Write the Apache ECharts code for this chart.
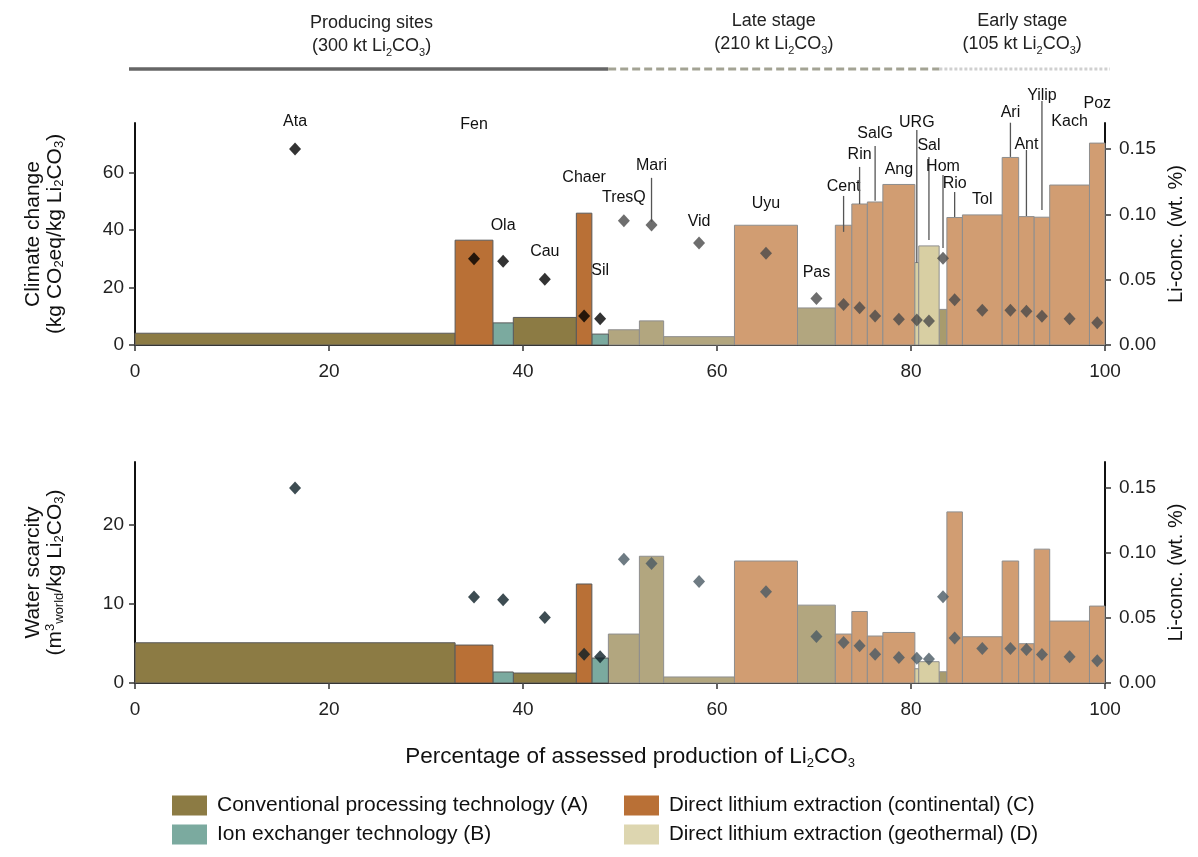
<!DOCTYPE html>
<html lang="en">
<head>
<meta charset="UTF-8">
<title>Li2CO3 production - climate change and water scarcity</title>
<script src="https://cdn.jsdelivr.net/npm/echarts@6.0.0/dist/echarts.min.js"></script>
<style>
    html, body { margin: 0; padding: 0; background: #fff; }
    #main { width: 1198px; height: 857px; }
</style>
</head>
<body>
<div id="main"></div>
<script>
// site order along the production axis
var sites = ['Ata', 'Fen', 'Ola', 'Cau', 'Chaer', 'Sil', 'TresQ', 'Mari', 'Vid', 'Uyu', 'Pas', 'Cent', 'Rin',
    'SalG', 'Ang', 'URG', 'Sal', 'Hom', 'Rio', 'Tol', 'Ari', 'Ant', 'Yilip', 'Kach', 'Poz'];
// cumulative share of assessed production (%), bar edges
var edges = [0, 33.0, 36.9, 39.0, 45.5, 47.1, 48.8, 52.0, 54.5, 61.8, 68.3, 72.2, 73.9, 75.5, 77.1, 80.4,
    80.8, 82.9, 83.7, 85.3, 89.4, 91.1, 92.7, 94.3, 98.4, 100];
var tech = ['A', 'C', 'B', 'A', 'C', 'B', 'A', 'A', 'A', 'C', 'A', 'C', 'C', 'C', 'C', 'D', 'D', 'A', 'C', 'C',
    'C', 'C', 'C', 'C', 'C'];
// P = producing, L = late stage, E = early stage
var stage = ['P', 'P', 'P', 'P', 'P', 'P', 'L', 'L', 'L', 'L', 'L', 'L', 'L', 'L', 'L', 'L', 'L', 'E', 'E', 'E',
    'E', 'E', 'E', 'E', 'E'];
var climate = [4.1, 36.5, 7.7, 9.6, 45.9, 3.8, 5.3, 8.4, 2.9, 41.7, 12.9, 41.7, 49.1, 49.8, 55.9, 28.7, 34.5,
    12.4, 44.4, 45.3, 65.3, 44.7, 44.5, 55.7, 70.3];
var water = [5.08, 4.79, 1.39, 1.26, 12.5, 3.15, 6.18, 16.0, 0.76, 15.4, 9.83, 6.18, 9.03, 5.93, 6.38, 1.8,
    2.69, 1.42, 21.6, 5.84, 15.4, 4.96, 16.9, 7.82, 9.71];
var liConc = [0.150, 0.0661, 0.0641, 0.0503, 0.0222, 0.0201, 0.0952, 0.0919, 0.0781, 0.0702, 0.0357, 0.0311,
    0.0286, 0.0222, 0.0197, 0.0191, 0.0184, 0.0664, 0.0347, 0.0266, 0.0266, 0.0258, 0.0220, 0.0201, 0.0171];

// site name labels (in climate change units) and leader lines
var labelY = [77.7, 76.7, 41.5, 32.4, 58.2, 25.8, 51.2, 62.4, 42.9, 49.1, 25.1, 55.1, 66.2, 73.5, 61.0, 77.4,
    69.3, 62.0, 56.1, 50.5, 80.8, 69.7, 86.8, 77.7, 84.0];
var lineTop = [null, null, null, null, null, null, null, 58.2, null, null, null, 51.9, 62.0, 69.3, null, 74.9,
    65.5, 59.2, 53.3, null, 77.4, 67.9, 85.0, null, null];
var lineEnd = [null, null, null, null, null, null, null, 42.9, null, null, null, 39.4, 49.1, 50.2, null, 28.6,
    36.6, 33.8, 44.6, null, 65.5, 44.9, 47.0, null, null];

var stageNames = ['Producing sites', 'Late stage', 'Early stage'];
var stageKt = [300, 210, 105];

var techNames = {
    A: 'Conventional processing technology (A)',
    B: 'Ion exchanger technology (B)',
    C: 'Direct lithium extraction (continental) (C)',
    D: 'Direct lithium extraction (geothermal) (D)'
};
var colors = {
    A: { P: '#8c7b44', L: '#b2a67f', E: '#a89b6d' },
    B: { P: '#7baa9f', L: '#a7c7bf', E: '#a7c7bf' },
    C: { P: '#b97036', L: '#d19d72', E: '#d19d72' },
    D: { P: '#ddd6b0', L: '#d8cfa3', E: '#d8cfa3' }
};

var FONT = 'Liberation Sans, Arial, Helvetica, sans-serif';
var subRich = {
    s: { fontSize: 13, verticalAlign: 'bottom', lineHeight: 14, fontFamily: FONT, color: '#111' },
    u: { fontSize: 13, verticalAlign: 'top', lineHeight: 14, fontFamily: FONT, color: '#111' }
};

function barItem(params, api) {
    var i = api.value(3);
    var p0 = api.coord([api.value(0), api.value(2)]);
    var p1 = api.coord([api.value(1), 0]);
    var st = stage[i];
    return {
        type: 'rect',
        shape: { x: p0[0], y: p0[1], width: p1[0] - p0[0], height: p1[1] - p0[1] },
        style: {
            fill: colors[tech[i]][st],
            stroke: st === 'P' ? '#5a5a5a' : '#8e8e8e',
            lineWidth: 1
        }
    };
}

function labelItem(params, api) {
    var i = params.dataIndex;
    var xc = (edges[i] + edges[i + 1]) / 2;
    var pt = api.coord([xc, labelY[i]]);
    var children = [{
        type: 'text',
        style: { text: sites[i], x: pt[0], y: pt[1], align: 'center', verticalAlign: 'middle',
            font: '16px ' + FONT, fill: '#111' }
    }];
    if (lineTop[i] != null) {
        var a = api.coord([xc, lineTop[i]]);
        var b = api.coord([xc, lineEnd[i]]);
        children.push({
            type: 'line',
            shape: { x1: a[0], y1: a[1], x2: b[0], y2: b[1] },
            style: { stroke: '#555', lineWidth: 1.3 }
        });
    }
    return { type: 'group', children: children };
}

var series = [];
[0, 1].forEach(function (g) {
    var vals = g === 0 ? climate : water;
    ['A', 'B', 'C', 'D'].forEach(function (t) {
        var data = [];
        sites.forEach(function (s, i) {
            if (tech[i] === t) data.push([edges[i], edges[i + 1], vals[i], i]);
        });
        series.push({
            name: techNames[t],
            type: 'custom',
            xAxisIndex: g,
            yAxisIndex: g * 2,
            renderItem: barItem,
            encode: { x: [0, 1], y: 2 },
            itemStyle: { color: colors[t].P },
            data: data,
            z: 2
        });
    });
    var prod = [], other = [];
    sites.forEach(function (s, i) {
        var pt = [(edges[i] + edges[i + 1]) / 2, liConc[i]];
        (stage[i] === 'P' ? prod : other).push(pt);
    });
    series.push({
        type: 'scatter', xAxisIndex: g, yAxisIndex: g * 2 + 1, symbol: 'diamond', symbolSize: [12, 13],
        itemStyle: { color: g === 0 ? '#000' : '#0c1f27' }, data: prod, z: 5, silent: true
    });
    series.push({
        type: 'scatter', xAxisIndex: g, yAxisIndex: g * 2 + 1, symbol: 'diamond', symbolSize: [12, 13],
        itemStyle: { color: g === 0 ? '#4a4a4a' : '#4a5a64' }, data: other, z: 5, silent: true
    });
});
series.push({
    type: 'custom',
    xAxisIndex: 0,
    yAxisIndex: 0,
    renderItem: labelItem,
    data: sites.map(function (s, i) { return [(edges[i] + edges[i + 1]) / 2, labelY[i]]; }),
    silent: true,
    clip: false,
    z: 6
});

function xAxisOf(g) {
    var ax = {
        gridIndex: g, type: 'value', min: 0, max: 100, interval: 20,
        axisLine: { onZero: false, lineStyle: { color: '#111', width: 2 } },
        axisTick: { length: 6, lineStyle: { color: '#333', width: 1.5 } },
        axisLabel: { fontSize: 19, color: '#222', margin: 17, fontFamily: FONT },
        splitLine: { show: false }
    };
    if (g === 1) {
        ax.name = 'Percentage of assessed production of Li{s|2}CO{s|3}';
        ax.nameLocation = 'middle';
        ax.nameGap = 61;
        ax.nameTextStyle = { fontSize: 22.5, color: '#111', fontFamily: FONT, lineHeight: 26,
            padding: [0, 0, 0, 20], rich: subRich };
    }
    return ax;
}
function leftAxis(g, max, ticks, name) {
    return {
        gridIndex: g, type: 'value', min: 0, max: max, position: 'left',
        axisLine: { show: true, lineStyle: { color: '#111', width: 2 } },
        axisTick: { show: true, length: 6, customValues: ticks, lineStyle: { color: '#333', width: 1.5 } },
        axisLabel: { fontSize: 19, color: '#222', margin: 11, customValues: ticks, fontFamily: FONT },
        splitLine: { show: false },
        name: name, nameLocation: 'middle', nameGap: 69,
        nameTextStyle: { fontSize: 21, color: '#111', fontFamily: FONT, lineHeight: 22, rich: subRich }
    };
}
function rightAxis(g) {
    var ticks = [0, 0.05, 0.10, 0.15];
    return {
        gridIndex: g, type: 'value', min: 0, max: 0.17, position: 'right',
        axisLine: { show: true, lineStyle: { color: '#111', width: 2 } },
        axisTick: { show: true, length: 6, customValues: ticks, lineStyle: { color: '#333', width: 1.5 } },
        axisLabel: { fontSize: 19, color: '#222', margin: 14, customValues: ticks, fontFamily: FONT,
            formatter: function (v) { return v.toFixed(2); } },
        splitLine: { show: false },
        name: 'Li-conc. (wt. %)', nameLocation: 'middle', nameGap: 57,
        nameTextStyle: { fontSize: 20, color: '#111', fontFamily: FONT }
    };
}

var chart = echarts.init(document.getElementById('main'));
chart.setOption({
    animation: false,
    textStyle: { fontFamily: FONT },
    grid: [
        { left: 135, right: 93, top: 123, height: 222 },
        { left: 135, right: 93, top: 462, height: 221 }
    ],
    xAxis: [xAxisOf(0), xAxisOf(1)],
    yAxis: [
        leftAxis(0, 77.3, [0, 20, 40, 60], 'Climate change\n(kg CO{s|2}eq/kg Li{s|2}CO{s|3})'),
        rightAxis(0),
        leftAxis(1, 27.9, [0, 10, 20], 'Water scarcity\n(m{u|3}{s|world}/kg Li{s|2}CO{s|3})'),
        rightAxis(1)
    ],
    legend: [
        { left: 172, top: 795, padding: 0, orient: 'vertical', icon: 'rect', itemWidth: 35, itemHeight: 20,
            itemGap: 8, textStyle: { fontSize: 21, color: '#111', padding: [0, 0, 0, 5] },
            data: [techNames.A, techNames.B] },
        { left: 624, top: 795, padding: 0, orient: 'vertical', icon: 'rect', itemWidth: 35, itemHeight: 20,
            itemGap: 8, textStyle: { fontSize: 20.5, color: '#111', padding: [0, 0, 0, 5] },
            data: [techNames.C, techNames.D] }
    ],
    series: series
});

// stage header above the top panel, placed through the x axis scale
var total = stageKt.reduce(function (a, b) { return a + b; }, 0);
var bounds = [0];
stageKt.forEach(function (k, i) { bounds.push(bounds[i] + k / total * 100); });
var px = bounds.map(function (v) { return chart.convertToPixel({ xAxisIndex: 0 }, v); });
var lineStyles = [
    { stroke: '#666', lineWidth: 3.5 },
    { stroke: '#a3a394', lineWidth: 3, lineDash: [8, 4] },
    { stroke: '#d0d0d0', lineWidth: 3, lineDash: [3, 2] }
];
var graphic = [];
stageNames.forEach(function (n, i) {
    var x1 = px[i] - (i === 0 ? 6 : 0);
    var x2 = px[i + 1] + (i === 2 ? 5 : 0);
    graphic.push({
        type: 'line', silent: true,
        shape: { x1: x1, y1: 69, x2: x2, y2: 69 },
        style: lineStyles[i]
    });
    graphic.push({
        type: 'text', silent: true,
        x: (px[i] + px[i + 1]) / 2, y: i === 0 ? 12 : 10,
        style: {
            text: n + '\n(' + stageKt[i] + ' kt Li{s|2}CO{s|3})',
            align: 'center', verticalAlign: 'top',
            font: '18px ' + FONT, fill: '#222', lineHeight: 23,
            rich: { s: { fontSize: 11, verticalAlign: 'bottom', lineHeight: 12, fill: '#222' } }
        }
    });
});
chart.setOption({ graphic: graphic });
</script>
</body>
</html>
